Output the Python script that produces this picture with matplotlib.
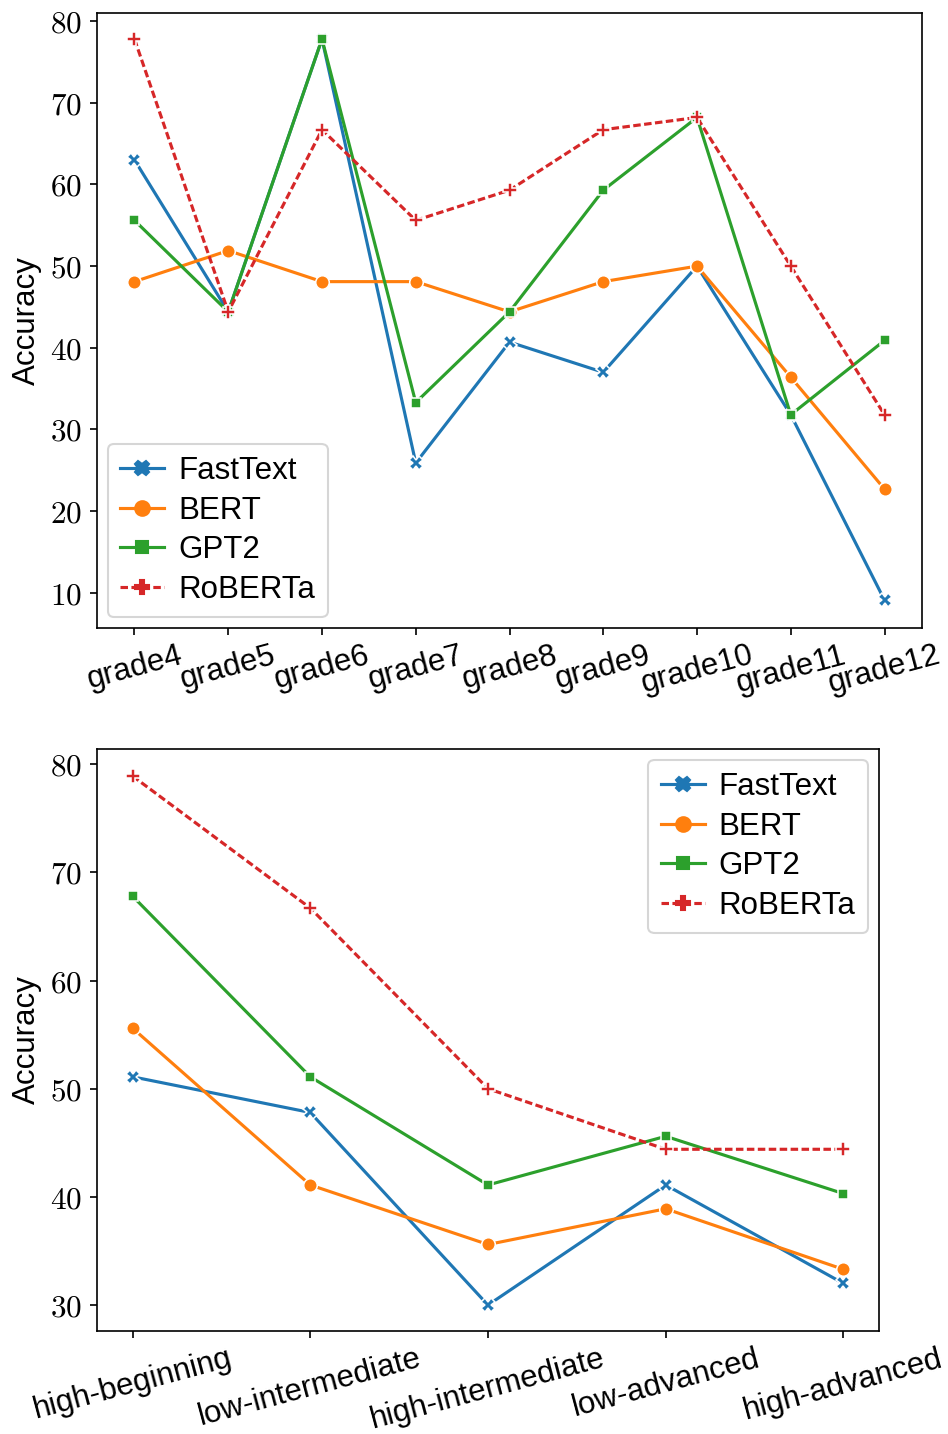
import matplotlib
matplotlib.use("Agg")
import matplotlib.pyplot as plt
from matplotlib.lines import Line2D
from matplotlib.ticker import FuncFormatter

plt.rcParams["font.family"] = ["Liberation Sans", "DejaVu Sans"]
plt.rcParams["mathtext.fontset"] = "cm"

# Accuracy by grade
grades = ["grade4", "grade5", "grade6", "grade7", "grade8",
          "grade9", "grade10", "grade11", "grade12"]
grade_fasttext = [63.0, 44.4, 77.8, 25.9, 40.7, 37.0, 50.0, 31.8, 9.1]
grade_bert = [48.1, 51.9, 48.1, 48.1, 44.4, 48.1, 50.0, 36.4, 22.7]
grade_gpt2 = [55.6, 44.4, 77.8, 33.3, 44.4, 59.3, 68.2, 31.8, 40.9]
grade_roberta = [77.8, 44.4, 66.7, 55.6, 59.3, 66.7, 68.2, 50.0, 31.8]

# Accuracy by proficiency level
levels = ["high-beginning", "low-intermediate", "high-intermediate",
          "low-advanced", "high-advanced"]
level_fasttext = [51.1, 47.8, 30.0, 41.1, 32.0]
level_bert = [55.6, 41.1, 35.6, 38.9, 33.3]
level_gpt2 = [67.8, 51.1, 41.1, 45.6, 40.3]
level_roberta = [78.9, 66.7, 50.0, 44.4, 44.4]

models = ["FastText", "BERT", "GPT2", "RoBERTa"]
colors = ["#1f77b4", "#ff7f0e", "#2ca02c", "#d62728"]
markers = ["X", "o", "s", "P"]
msizes = [6.5, 6.5, 5.2, 6.5]
dashes = [None, None, None, (2.4, 1.1)]


def draw(ax, labels, series, legend_loc, xpad):
    xs = list(range(len(labels)))
    for name, ys, c, m, s, d in zip(models, series, colors, markers, msizes, dashes):
        kw = dict(color=c, lw=1.5, marker=m, ms=s, mec="white", mew=0.75)
        if d is not None:
            kw["dashes"] = d
        ax.plot(xs, ys, label=name, **kw)
    ax.set_xticks(xs)
    ax.set_xticklabels(labels, rotation=15, fontsize=15)
    ax.tick_params(axis="x", pad=2.5)
    ax.set_xlim(-xpad, len(labels) - 1 + xpad)
    ax.yaxis.set_major_formatter(FuncFormatter(lambda v, p: f"${v:.0f}$"))
    ax.tick_params(axis="y", labelsize=15)
    ax.set_ylabel("Accuracy", fontsize=15)

    # legend handles without the white marker edge
    handles = []
    for name, c, m, s, d in zip(models, colors, markers, msizes, dashes):
        h = Line2D([], [], color=c, lw=1.5, marker=m, ms=s + 0.5, mec=c)
        if d is not None:
            h.set_dashes(d)
        handles.append(h)
    ax.legend(handles, models, loc=legend_loc, fontsize=15,
              handlelength=1.4, handletextpad=0.45, labelspacing=0.3,
              borderaxespad=0.35, borderpad=0.4)


fig = plt.figure(figsize=(6.32, 9.56), dpi=150)
ax1 = fig.add_axes([0.1023, 0.5621, 0.8703, 0.4289])
ax2 = fig.add_axes([0.1023, 0.0718, 0.8249, 0.4059])

draw(ax1, grades, [grade_fasttext, grade_bert, grade_gpt2, grade_roberta],
     "lower left", 0.4)
ax1.set_ylim(5.7, 81.0)

draw(ax2, levels, [level_fasttext, level_bert, level_gpt2, level_roberta],
     "upper right", 0.2)
ax2.set_ylim(27.6, 81.4)

fig.savefig("out.png", dpi=150)
